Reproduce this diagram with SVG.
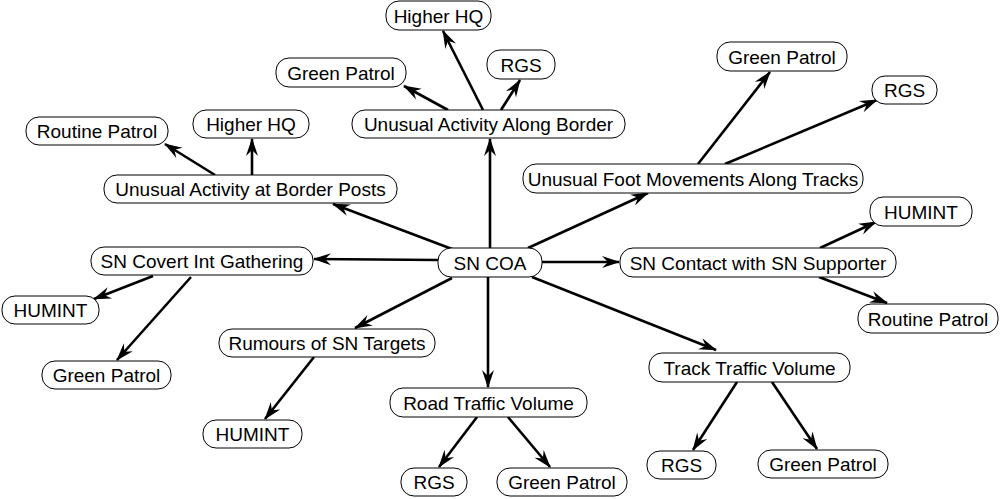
<svg xmlns="http://www.w3.org/2000/svg" width="1001" height="499" viewBox="0 0 1001 499">
<style>
.n rect{fill:#fff;stroke:#000;stroke-width:1}
.n text{font-family:"Liberation Sans",Arial,sans-serif;font-size:19px;fill:#000;text-anchor:middle}
.e line{stroke:#000;stroke-width:2.6;marker-end:url(#ah)}
</style>
<defs>
<marker id="ah" markerUnits="userSpaceOnUse" viewBox="-19 -7 21 14" markerWidth="21" markerHeight="14" refX="0" refY="0" orient="auto">
<path d="M1,0 L-17,-6 L-11,0 L-17,6 Z" fill="#000"/>
</marker>
</defs>
<rect width="1001" height="499" fill="#fff"/>
<g id="connectors" class="e">
<line x1="490" y1="248" x2="490" y2="139"/>
<line x1="452" y1="249" x2="333" y2="204"/>
<line x1="438" y1="260" x2="314" y2="259"/>
<line x1="452" y1="278" x2="355" y2="328"/>
<line x1="488" y1="277" x2="488" y2="387"/>
<line x1="532" y1="277" x2="716" y2="350"/>
<line x1="542" y1="262" x2="619" y2="262"/>
<line x1="528" y1="248" x2="648" y2="193"/>
<line x1="483" y1="110" x2="443" y2="31"/>
<line x1="501" y1="110" x2="520" y2="80"/>
<line x1="448" y1="110" x2="404" y2="86"/>
<line x1="215" y1="175" x2="165" y2="144"/>
<line x1="252" y1="175" x2="252" y2="139"/>
<line x1="698" y1="164" x2="770" y2="72"/>
<line x1="725" y1="164" x2="877" y2="100"/>
<line x1="820" y1="248" x2="876" y2="222"/>
<line x1="819" y1="277" x2="887" y2="303"/>
<line x1="153" y1="276" x2="94" y2="299"/>
<line x1="191" y1="277" x2="117" y2="360"/>
<line x1="314" y1="357" x2="265" y2="419"/>
<line x1="477" y1="417" x2="439" y2="467"/>
<line x1="508" y1="417" x2="550" y2="467"/>
<line x1="737" y1="382" x2="693" y2="450"/>
<line x1="772" y1="382" x2="817" y2="449"/>
</g>
<g id="hq1" class="n"><rect x="386" y="1" width="105" height="29" rx="13"/><text x="438.5" y="22.5">Higher HQ</text></g>
<g id="rgs1" class="n"><rect x="487" y="50" width="68" height="29" rx="13"/><text x="521" y="71.5">RGS</text></g>
<g id="gp1" class="n"><rect x="276" y="58" width="130" height="29" rx="13"/><text x="341" y="79.5">Green Patrol</text></g>
<g id="uab" class="n"><rect x="352" y="110" width="273" height="28" rx="13"/><text x="488.5" y="131">Unusual Activity Along Border</text></g>
<g id="rp1" class="n"><rect x="26" y="117" width="142" height="28" rx="13"/><text x="97" y="138">Routine Patrol</text></g>
<g id="hq2" class="n"><rect x="193" y="110" width="116" height="28" rx="13"/><text x="251" y="131">Higher HQ</text></g>
<g id="uabp" class="n"><rect x="104" y="175" width="293" height="28" rx="13"/><text x="250.5" y="196">Unusual Activity at Border Posts</text></g>
<g id="gp2" class="n"><rect x="717" y="42" width="130" height="29" rx="13"/><text x="782" y="63.5">Green Patrol</text></g>
<g id="rgs2" class="n"><rect x="872" y="76" width="65" height="28" rx="13"/><text x="904.5" y="97">RGS</text></g>
<g id="ufmat" class="n"><rect x="523" y="164" width="340" height="29" rx="13"/><text x="693" y="185.5">Unusual Foot Movements Along Tracks</text></g>
<g id="humint1" class="n"><rect x="870" y="197" width="102" height="29" rx="13"/><text x="921" y="218.5">HUMINT</text></g>
<g id="sncoa" class="n"><rect x="438" y="248" width="104" height="29" rx="13"/><text x="490" y="269.5">SN COA</text></g>
<g id="sncontact" class="n"><rect x="620" y="248" width="276" height="29" rx="13"/><text x="758" y="269.5">SN Contact with SN Supporter</text></g>
<g id="sncovert" class="n"><rect x="91" y="247" width="222" height="28" rx="13"/><text x="202" y="268">SN Covert Int Gathering</text></g>
<g id="humint2" class="n"><rect x="2" y="296" width="97" height="28" rx="13"/><text x="50.5" y="317">HUMINT</text></g>
<g id="gp3" class="n"><rect x="42" y="361" width="129" height="28" rx="13"/><text x="106.5" y="382">Green Patrol</text></g>
<g id="rp2" class="n"><rect x="858" y="304" width="140" height="29" rx="13"/><text x="928" y="325.5">Routine Patrol</text></g>
<g id="rumours" class="n"><rect x="219" y="329" width="216" height="28" rx="13"/><text x="327" y="350">Rumours of SN Targets</text></g>
<g id="humint3" class="n"><rect x="203" y="420" width="99" height="28" rx="13"/><text x="252.5" y="441">HUMINT</text></g>
<g id="road" class="n"><rect x="390" y="388" width="197" height="29" rx="13"/><text x="488.5" y="409.5">Road Traffic Volume</text></g>
<g id="track" class="n"><rect x="649" y="353" width="201" height="29" rx="13"/><text x="749.5" y="374.5">Track Traffic Volume</text></g>
<g id="rgs3" class="n"><rect x="401" y="468" width="66" height="28" rx="13"/><text x="434" y="489">RGS</text></g>
<g id="gp4" class="n"><rect x="497" y="468" width="130" height="28" rx="13"/><text x="562" y="489">Green Patrol</text></g>
<g id="rgs4" class="n"><rect x="647" y="451" width="69" height="28" rx="13"/><text x="681.5" y="472">RGS</text></g>
<g id="gp5" class="n"><rect x="758" y="450" width="130" height="28" rx="13"/><text x="823" y="471">Green Patrol</text></g>
</svg>
